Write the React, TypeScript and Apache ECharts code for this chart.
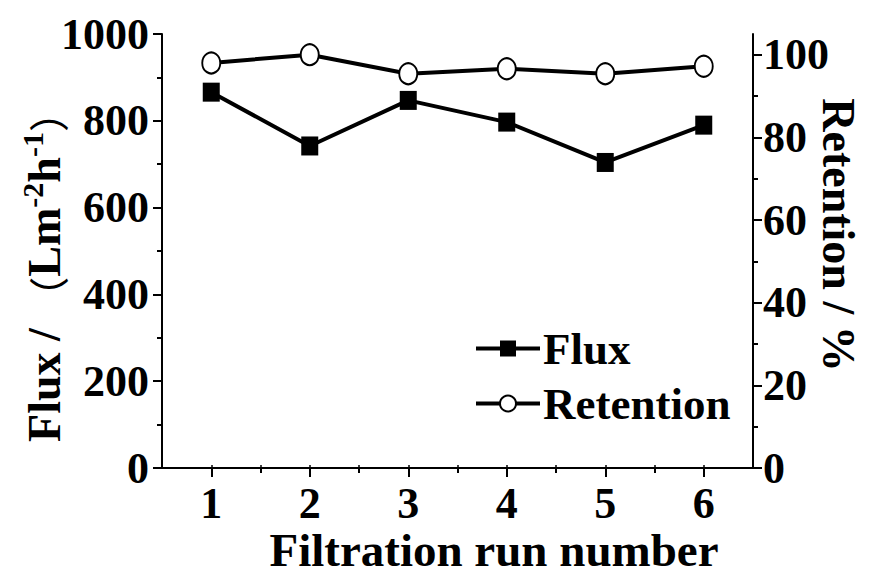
import React, { useEffect, useRef } from "react";
import * as echarts from "echarts";

const runs = [1, 2, 3, 4, 5, 6];
const flux = [866, 742, 847, 797, 704, 790];
const retention = [98.0, 100.0, 95.4, 96.6, 95.4, 97.2];
const xTicks = [1, 2, 3, 4, 5, 6];
const xMinorTicks = [1.5, 2.5, 3.5, 4.5, 5.5];
const fluxTicks = [0, 200, 400, 600, 800, 1000];
const fluxMinorTicks = [100, 300, 500, 700, 900];
const retentionTicks = [0, 20, 40, 60, 80, 100];
const retentionMinorTicks = [10, 30, 50, 70, 90];

const FONT = "'Liberation Serif', 'Times New Roman', serif";
const BLACK = "#000";

export default function App() {
  const ref = useRef<HTMLDivElement>(null);
  useEffect(() => {
    if (!ref.current) return;
    const chart = echarts.init(ref.current, undefined, { renderer: "svg" });
    const lbl = { fontFamily: FONT, fontWeight: "bold", fontSize: 44, color: BLACK };
    const axLine = { show: true, lineStyle: { color: BLACK, width: 2 } };
    const hiddenAx = { show: false };
    const plain = (v: number) => String(v);
    chart.setOption({
      animation: false,
      backgroundColor: "#fff",
      grid: { left: 162, right: 119, top: 34, bottom: 107, containLabel: false },
      legend: {
        orient: "vertical",
        left: 474,
        top: 326,
        itemWidth: 64,
        itemHeight: 20,
        itemGap: 10,
        padding: 0,
        lineStyle: { width: 4, color: BLACK },
        textStyle: { ...lbl, fontSize: 45, padding: [0, 0, 0, -2] },
        data: ["Flux", "Retention"],
      },
      xAxis: [
        {
          type: "value",
          position: "bottom",
          min: 0.5,
          max: 6.5,
          axisLine: axLine,
          axisTick: { show: true, customValues: xTicks, length: 9, lineStyle: { color: BLACK, width: 2 } },
          axisLabel: { ...lbl, customValues: xTicks, margin: 13, formatter: plain },
          splitLine: { show: false },
        },
        {
          type: "value",
          position: "bottom",
          min: 0.5,
          max: 6.5,
          axisLine: hiddenAx,
          axisTick: { show: true, customValues: xMinorTicks, length: 5, lineStyle: { color: BLACK, width: 2 } },
          axisLabel: { show: false },
          splitLine: { show: false },
        },
        {
          type: "value",
          position: "top",
          min: 0.5,
          max: 6.5,
          axisLine: axLine,
          axisTick: { show: true, customValues: xTicks.concat(xMinorTicks), length: 3, lineStyle: { color: BLACK, width: 1.5 } },
          axisLabel: { show: false },
          splitLine: { show: false },
        },
      ],
      yAxis: [
        {
          type: "value",
          position: "left",
          min: 0,
          max: 1000,
          axisLine: axLine,
          axisTick: { show: true, customValues: fluxTicks, length: 9, lineStyle: { color: BLACK, width: 2 } },
          axisLabel: { ...lbl, customValues: fluxTicks, margin: 13, formatter: plain },
          splitLine: { show: false },
        },
        {
          type: "value",
          position: "right",
          min: 0,
          max: 105,
          axisLine: axLine,
          axisTick: { show: true, customValues: retentionTicks, length: 9, lineStyle: { color: BLACK, width: 2 } },
          axisLabel: { ...lbl, customValues: retentionTicks, margin: 10, formatter: plain },
          splitLine: { show: false },
        },
        {
          type: "value",
          position: "left",
          min: 0,
          max: 1000,
          axisLine: hiddenAx,
          axisTick: { show: true, customValues: fluxMinorTicks, length: 5, lineStyle: { color: BLACK, width: 2 } },
          axisLabel: { show: false },
          splitLine: { show: false },
        },
        {
          type: "value",
          position: "right",
          min: 0,
          max: 105,
          axisLine: hiddenAx,
          axisTick: { show: true, customValues: retentionMinorTicks, length: 5, lineStyle: { color: BLACK, width: 2 } },
          axisLabel: { show: false },
          splitLine: { show: false },
        },
      ],
      series: [
        {
          name: "Flux",
          type: "line",
          xAxisIndex: 0,
          yAxisIndex: 0,
          data: runs.map((r, i) => [r, flux[i]]),
          symbol: "rect",
          symbolSize: [17, 19],
          lineStyle: { color: BLACK, width: 4 },
          itemStyle: { color: BLACK },
          z: 3,
        },
        {
          name: "Retention",
          type: "line",
          xAxisIndex: 0,
          yAxisIndex: 1,
          data: runs.map((r, i) => [r, retention[i]]),
          symbol: "circle",
          symbolSize: [18, 21],
          lineStyle: { color: BLACK, width: 4 },
          itemStyle: { color: "#fff", borderColor: BLACK, borderWidth: 2 },
          z: 4,
        },
      ],
      graphic: [
        {
          type: "text",
          x: 42,
          y: 267,
          rotation: Math.PI / 2,
          style: {
            text: "{b|Flux / }{p|（}{b|Lm}{s|-2}{b|h}{s|-1}{p|）}",
            align: "center",
            verticalAlign: "middle",
            rich: {
              b: { fontFamily: FONT, fontWeight: "bold", fontSize: 46, fill: BLACK, verticalAlign: "bottom", lineHeight: 50 },
              s: { fontFamily: FONT, fontWeight: "bold", fontSize: 30, fill: BLACK, verticalAlign: "top", lineHeight: 50 },
              p: { fontFamily: "'Noto Sans CJK SC', sans-serif", fontWeight: "normal", fontSize: 40, fill: BLACK, verticalAlign: "bottom", lineHeight: 50 },
            },
          },
        },
        {
          type: "text",
          x: 838,
          y: 235,
          rotation: -Math.PI / 2,
          style: {
            text: "Retention / %",
            align: "center",
            verticalAlign: "middle",
            fontFamily: FONT,
            fontWeight: "bold",
            fontSize: 46,
            fill: BLACK,
          },
        },
        {
          type: "text",
          x: 494,
          y: 550,
          style: {
            text: "Filtration run number",
            align: "center",
            verticalAlign: "middle",
            fontFamily: FONT,
            fontWeight: "bold",
            fontSize: 47,
            fill: BLACK,
          },
        },
      ],
    });
    return () => chart.dispose();
  }, []);
  return <div ref={ref} style={{ width: 872, height: 575, position: "absolute", left: 0, top: 0 }} />;
}
